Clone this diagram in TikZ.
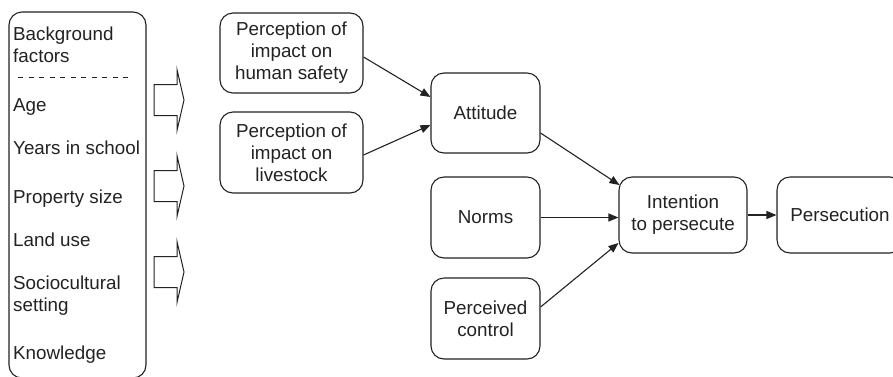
\documentclass[tikz,border=0pt]{standalone}
\usepackage{fontspec}
\setmainfont{Liberation Sans}
\usetikzlibrary{arrows.meta,calc}
\definecolor{ink}{HTML}{222222}
\begin{document}
\begin{tikzpicture}[x=1pt,y=-1pt,
  font=\fontsize{18.8}{22}\selectfont,
  every node/.style={text=ink},
  box/.style={draw=ink,line width=1.1pt,rounded corners=13pt,align=center,inner sep=0pt},
  arr/.style={draw=ink,line width=1.1pt,-{Triangle[length=10pt,width=8pt]}},
  blk/.style={draw=ink,line width=1pt},
  lbl/.style={anchor=base west,inner sep=0pt}]
\useasboundingbox (0,0) rectangle (893,376);
% background factors box
\node[box,minimum width=137pt,minimum height=366pt] (bg) at (77.5,195) {};
\node[lbl] (t1) at (13,40) {Background};
\node[lbl] (t2) at (13,62) {factors};
\draw[ink,line width=1.2pt,dash pattern=on 5pt off 5.5pt] (18,77.5) -- (129,77.5);
\node[lbl] (t3) at (13,111) {Age};
\node[lbl] (t4) at (13,154) {Years in school};
\node[lbl] (t5) at (13,203) {Property size};
\node[lbl] (t6) at (13,246) {Land use};
\node[lbl] (t7) at (13,289) {Sociocultural};
\node[lbl] (t8) at (13,311) {setting};
\node[lbl] (t9) at (13,359) {Knowledge};
% block arrows
\foreach \c in {100,186,272}{
  \draw[blk] (154,\c-15.5) -- (177,\c-15.5) -- (177,\c-30.5) -- (184,\c) -- (177,\c+30.5) -- (177,\c+15.5) -- (154,\c+15.5) -- cycle;
}
% nodes
\node[box,minimum width=143pt,minimum height=80pt] (human) at (291.5,53) {Perception of\\impact on\\human safety};
\node[box,minimum width=143pt,minimum height=81pt] (live) at (291.5,152.5) {Perception of\\impact on\\livestock};
\node[box,minimum width=109pt,minimum height=80pt] (att) at (485.5,113) {Attitude};
\node[box,minimum width=109pt,minimum height=81pt] (norms) at (485.5,217.5) {Norms};
\node[box,minimum width=109pt,minimum height=81pt] (ctrl) at (485.5,318.5) {Perceived\\control};
\node[box,minimum width=128pt,minimum height=76pt] (int) at (683,215) {Intention\\to persecute};
\node[box,minimum width=126pt,minimum height=76pt] (pers) at (840,215) {Persecution};
% connectors
\draw[arr] ([yshift=-4pt]human.east) -- ([yshift=16pt]att.west);
\draw[arr] ([yshift=-2.5pt]live.east) -- ([yshift=-12pt]att.west);
\draw[arr] ([yshift=-20pt]att.east) -- ([yshift=30pt,xshift=1pt]int.west);
\draw[arr] (norms.east) -- (norms.east -| int.west);
\draw[arr] ([yshift=11.5pt]ctrl.east) -- ([yshift=-28pt]int.west);
\draw[arr] (int.east) -- (int.east -| pers.west);
\end{tikzpicture}
\end{document}
